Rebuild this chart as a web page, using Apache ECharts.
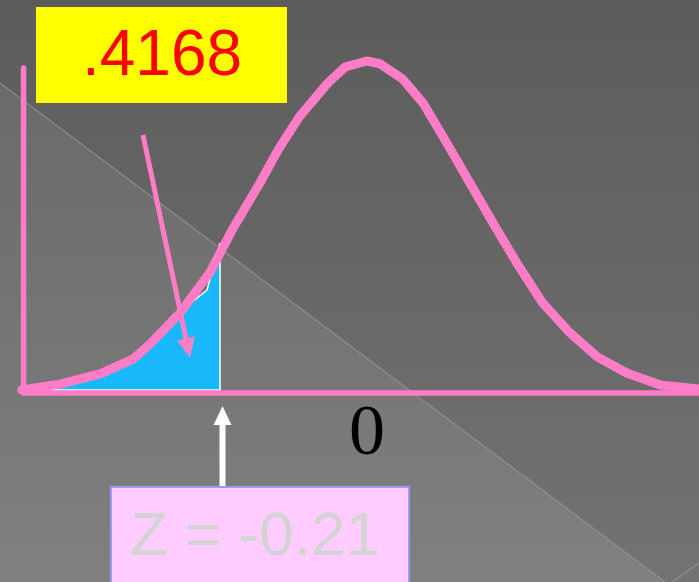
<!DOCTYPE html>
<html>
<head>
<meta charset="utf-8">
<script src="https://cdn.jsdelivr.net/npm/echarts@6/dist/echarts.min.js"></script>
<style>
  html, body { margin: 0; padding: 0; background: #606060; }
  #chart { width: 699px; height: 582px; }
</style>
</head>
<body>
<div id="chart"></div>
<script>
// Bell curve: x in z units (0 at the mean), y as relative height (peak = 1)
const curveX = [-0.493, -0.439, -0.381, -0.334, -0.310, -0.267, -0.224, -0.191, -0.153, -0.127, -0.097, -0.056, -0.031, 0, 0.019, 0.051, 0.080, 0.114, 0.147, 0.180, 0.214, 0.251, 0.290, 0.329, 0.371, 0.419, 0.474];
const curveY = [0, 0.018, 0.049, 0.095, 0.140, 0.235, 0.360, 0.494, 0.631, 0.732, 0.832, 0.936, 0.985, 1.003, 0.994, 0.948, 0.875, 0.753, 0.631, 0.509, 0.387, 0.265, 0.174, 0.101, 0.052, 0.015, 0.003];

// Shaded left tail, up to the cut value
const tailX = [-0.493, -0.439, -0.381, -0.334, -0.310, -0.267, -0.2286, -0.21, -0.21, -0.493];
const tailY = [0, 0.018, 0.049, 0.095, 0.140, 0.238, 0.305, 0.448, 0, 0];

// Axis frame (vertical + horizontal)
const frameX = [-0.4907, -0.4907, 0.4743];
const frameY = [0.982, -0.009, -0.009];

const zCut = -0.21;
const tailArea = '.4168';
const zText = 'Z = -0.21';
const meanTick = '0';

const PINK = '#ff7dc6';
const BLUE = '#18b9fa';

const zip = (xs, ys) => xs.map((x, i) => [x, ys[i]]);

const chart = echarts.init(document.getElementById('chart'), null, { renderer: 'canvas' });

chart.setOption({
  animation: false,
  backgroundColor: {
    type: 'linear', x: 0, y: 0, x2: 0, y2: 1,
    colorStops: [{ offset: 0, color: '#5c5c5c' }, { offset: 1, color: '#737373' }]
  },
  grid: { left: 22, right: 0, top: 62, bottom: 192 },
  xAxis: { type: 'value', min: -0.4929, max: 0.4743, show: false },
  yAxis: { type: 'value', min: 0, max: 1, show: false },
  series: [
    {
      name: 'tail', type: 'line', data: zip(tailX, tailY), symbol: 'none', z: 3, clip: false,
      lineStyle: { color: '#ffffff', width: 1.5 },
      areaStyle: { color: BLUE, opacity: 1 }
    },
    {
      name: 'curve', type: 'line', data: zip(curveX, curveY), symbol: 'none', z: 4, clip: false,
      lineStyle: { color: PINK, width: 9, cap: 'round', join: 'round' }
    },
    {
      name: 'frame', type: 'line', data: zip(frameX, frameY), symbol: 'none', z: 5, clip: false,
      lineStyle: { color: PINK, width: 5.5, cap: 'round', join: 'round' }
    }
  ]
});

const P = (x, y) => chart.convertToPixel({ gridIndex: 0 }, [x, y]);

const cutPx = P(zCut, 0)[0] + 2.5;
const meanPx = P(0, 0)[0];

// pink pointer into the shaded tail
const a0 = [143, 135];
const a1 = [190, 358];
const dx = a1[0] - a0[0], dy = a1[1] - a0[1];
const len = Math.hypot(dx, dy);
const ux = dx / len, uy = dy / len;
const headLen = 20, headHalf = 9;
const baseX = a1[0] - ux * headLen, baseY = a1[1] - uy * headLen;

chart.setOption({
  graphic: [
    {
      type: 'polygon', z: 0,
      shape: { points: [[0, 83], [665, 582], [0, 582]] },
      style: {
        fill: {
          type: 'linear', x: 0, y: 0, x2: 0, y2: 1,
          colorStops: [{ offset: 0, color: '#6a6a6a' }, { offset: 1, color: '#808080' }]
        }
      }
    },
    { type: 'line', z: 1, shape: { x1: 0, y1: 83, x2: 665, y2: 582 }, style: { stroke: '#9c9c9c', lineWidth: 1 } },
    { type: 'line', z: 1, shape: { x1: 672, y1: 582, x2: 699, y2: 563 }, style: { stroke: '#9c9c9c', lineWidth: 1 } },

    // value box
    { type: 'rect', z: 10, shape: { x: 36, y: 7, width: 251, height: 96 }, style: { fill: '#ffff00' } },
    {
      type: 'text', z: 11, x: 162, y: 57,
      style: { text: tailArea, font: '64px "Liberation Sans", Arial, sans-serif', fill: '#ff0000', align: 'center', verticalAlign: 'middle' }
    },

    // pointer arrow
    {
      type: 'line', z: 10,
      shape: { x1: a0[0], y1: a0[1], x2: baseX + ux * 4, y2: baseY + uy * 4 },
      style: { stroke: PINK, lineWidth: 5 }
    },
    {
      type: 'polygon', z: 10,
      shape: { points: [[a1[0], a1[1]], [baseX - uy * headHalf, baseY + ux * headHalf], [baseX + uy * headHalf, baseY - ux * headHalf]] },
      style: { fill: PINK }
    },

    // mean tick label
    {
      type: 'text', z: 11, x: meanPx, y: 435,
      style: { text: meanTick, font: '72px "Liberation Serif", "Times New Roman", serif', fill: '#000000', align: 'center', verticalAlign: 'middle' }
    },

    // arrow up to the cut value
    { type: 'rect', z: 10, shape: { x: cutPx - 3, y: 422, width: 6, height: 66 }, style: { fill: '#ffffff' } },
    { type: 'polygon', z: 10, shape: { points: [[cutPx, 406], [cutPx - 9, 425], [cutPx + 9, 425]] }, style: { fill: '#ffffff' } },

    // z box
    { type: 'rect', z: 10, shape: { x: 111, y: 487, width: 298, height: 110 }, style: { fill: '#ffccff', stroke: '#9999ff', lineWidth: 2 } },
    {
      type: 'text', z: 11, x: 255, y: 537.5,
      style: { text: zText, font: '62px "Liberation Sans", Arial, sans-serif', fill: '#d3d3d3', align: 'center', verticalAlign: 'middle' }
    }
  ]
});
</script>
</body>
</html>
